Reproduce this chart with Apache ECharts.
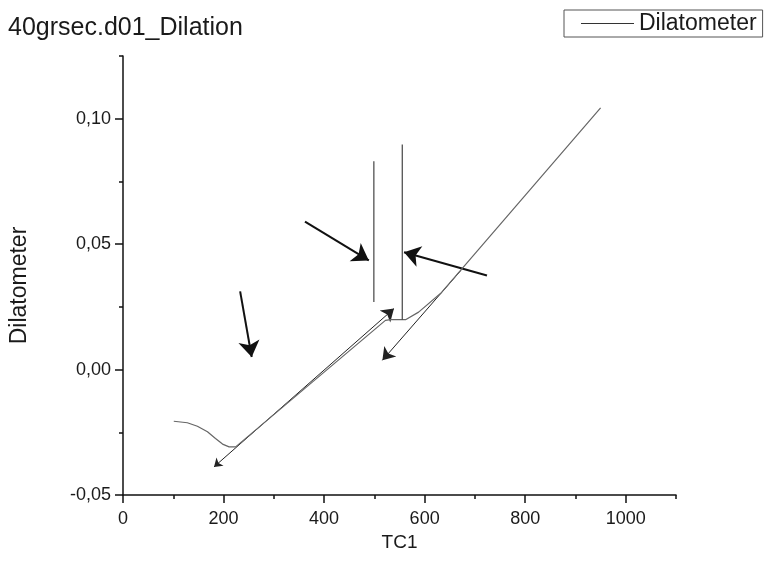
<!DOCTYPE html>
<html>
<head>
<meta charset="utf-8">
<script src="https://cdn.jsdelivr.net/npm/echarts@6/dist/echarts.min.js"></script>
<style>
  html, body { margin: 0; padding: 0; background: #fff; }
  #main { width: 766px; height: 563px; }
</style>
</head>
<body>
<div id="main"></div>
<script type="text/javascript">
    // measured curve (TC1 vs Dilatometer)
    var tc1 = [101, 128, 148, 168, 184, 198, 211, 224, 522, 532, 562, 588, 632, 950];
    var dil = [-0.0206, -0.0212, -0.0226, -0.0248, -0.0275, -0.0297, -0.0308, -0.0308,
               0.0196, 0.0199, 0.0199, 0.0229, 0.0304, 0.1043];

    // vertical marker lines
    var mark1X = [499, 499], mark1Y = [0.0830, 0.0269];
    var mark2X = [555.5, 555.5], mark2Y = [0.0897, 0.0199];

    // thin arrows along the curve
    var thinFrom = [[181, -0.0388], [672, 0.0395]];
    var thinTo   = [[539, 0.0243], [516, 0.0037]];
    // bold pointer arrows
    var boldFrom = [[233, 0.0312], [362, 0.0590], [724, 0.0375]];
    var boldTo   = [[256, 0.0050], [489, 0.0435], [559, 0.0468]];

    var xMajor = [0, 200, 400, 600, 800, 1000];
    var xMinor = [100, 300, 500, 700, 900, 1100];
    var yMajor = [-0.05, 0, 0.05, 0.10];
    var yMinor = [-0.025, 0.025, 0.075, 0.125];

    function zip(a, b) {
        var out = [];
        for (var i = 0; i < a.length; i++) out.push([a[i], b[i]]);
        return out;
    }
    function pairs(from, to) {
        var out = [];
        for (var i = 0; i < from.length; i++) out.push({ coords: [from[i], to[i]] });
        return out;
    }

    var font = 'Liberation Sans, Arial, sans-serif';
    var axisCol = '#111';

    var myChart = echarts.init(document.getElementById('main'));
    var option = {
        animation: false,
        backgroundColor: '#fff',
        title: {
            text: '40grsec.d01_Dilation',
            left: 8, top: 16, padding: 0,
            textStyle: { fontFamily: font, fontSize: 25, fontWeight: 'normal', color: '#1a1a1a' }
        },
        legend: {
            data: [{ name: 'Dilatometer', icon: 'rect' }],
            left: 564, top: 10,
            padding: [2, 6, 2, 17],
            borderColor: '#555', borderWidth: 1,
            itemWidth: 53, itemHeight: 1,
            itemStyle: { color: '#333' },
            textStyle: { fontFamily: font, fontSize: 23, color: '#1a1a1a' }
        },
        grid: { left: 122, right: 90, top: 56, bottom: 68, containLabel: false },
        xAxis: [{
            type: 'value', min: 0, max: 1100,
            name: 'TC1', nameLocation: 'middle', nameGap: 34,
            nameTextStyle: { fontFamily: font, fontSize: 19, color: '#1a1a1a' },
            axisLine: { onZero: false, lineStyle: { color: axisCol, width: 1.5 } },
            axisTick: { customValues: xMajor, length: 8, lineStyle: { color: axisCol, width: 1.5 } },
            axisLabel: {
                customValues: xMajor, margin: 15, fontFamily: font, fontSize: 18, color: '#1a1a1a',
                formatter: function (v) { return String(v); }
            },
            splitLine: { show: false }
        }, {
            type: 'value', min: 0, max: 1100, position: 'bottom',
            axisLine: { show: false, onZero: false },
            axisTick: { customValues: xMinor, length: 4, lineStyle: { color: axisCol, width: 1.5 } },
            axisLabel: { show: false },
            splitLine: { show: false }
        }],
        yAxis: [{
            type: 'value', min: -0.05, max: 0.125,
            name: 'Dilatometer', nameLocation: 'middle', nameGap: 92,
            nameTextStyle: { fontFamily: font, fontSize: 23, color: '#1a1a1a', padding: [0, 20, 0, 0] },
            axisLine: { onZero: false, lineStyle: { color: axisCol, width: 1.5 } },
            axisTick: { customValues: yMajor, length: 8, lineStyle: { color: axisCol, width: 1.5 } },
            axisLabel: {
                customValues: yMajor, margin: 12, fontFamily: font, fontSize: 18, color: '#1a1a1a',
                formatter: function (v) { return v.toFixed(2).replace('.', ','); }
            },
            splitLine: { show: false }
        }, {
            type: 'value', min: -0.05, max: 0.125, position: 'left',
            axisLine: { show: false, onZero: false },
            axisTick: { customValues: yMinor, length: 4, lineStyle: { color: axisCol, width: 1.5 } },
            axisLabel: { show: false },
            splitLine: { show: false }
        }],
        series: [{
            name: 'Dilatometer',
            type: 'line',
            data: zip(tc1, dil),
            symbol: 'none',
            color: '#333',
            lineStyle: { color: '#666', width: 1.2 }
        }, {
            type: 'line', data: zip(mark1X, mark1Y), symbol: 'none',
            lineStyle: { color: '#444', width: 1.2 }
        }, {
            type: 'line', data: zip(mark2X, mark2Y), symbol: 'none',
            lineStyle: { color: '#444', width: 1.2 }
        }, {
            type: 'lines', coordinateSystem: 'cartesian2d',
            symbol: ['arrow', 'arrow'], symbolSize: [8, 12],
            lineStyle: { color: '#222', width: 1, opacity: 1 },
            data: [pairs(thinFrom, thinTo)[0]]
        }, {
            type: 'lines', coordinateSystem: 'cartesian2d',
            symbol: ['none', 'arrow'], symbolSize: [8, 12],
            lineStyle: { color: '#222', width: 1, opacity: 1 },
            data: [pairs(thinFrom, thinTo)[1]]
        }, {
            type: 'lines', coordinateSystem: 'cartesian2d',
            symbol: ['none', 'arrow'], symbolSize: [11, 16],
            lineStyle: { color: '#111', width: 2, opacity: 1 },
            data: pairs(boldFrom, boldTo)
        }]
    };
    myChart.setOption(option);
</script>
</body>
</html>
